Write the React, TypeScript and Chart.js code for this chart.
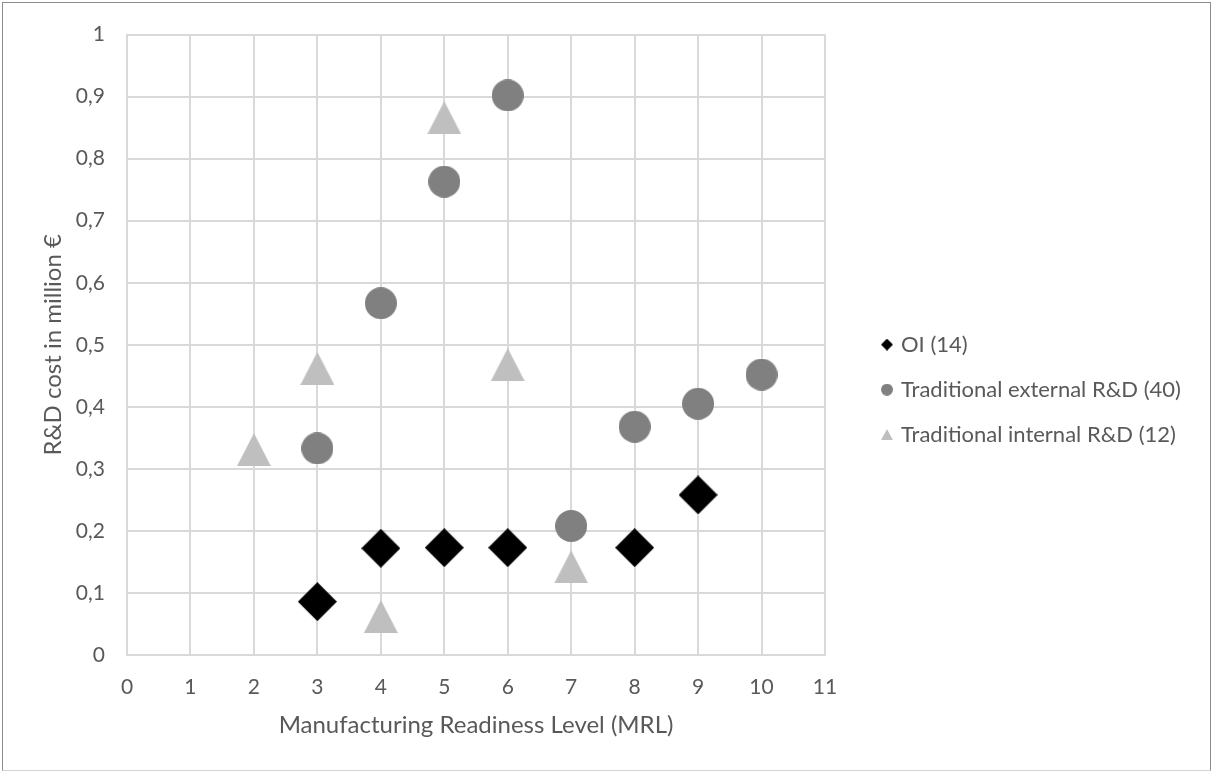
import React, { useEffect, useRef } from 'react';
import { Chart, registerables } from 'chart.js';

Chart.register(...registerables);

// ---- data ----
const xTickValues = [0, 1, 2, 3, 4, 5, 6, 7, 8, 9, 10, 11];
const yTickLabels = ['0', '0,1', '0,2', '0,3', '0,4', '0,5', '0,6', '0,7', '0,8', '0,9', '1'];

const oiX = [3, 4, 5, 6, 8, 9];
const oiY = [0.086, 0.172, 0.173, 0.173, 0.173, 0.258];

const extX = [3, 4, 5, 6, 7, 8, 9, 10];
const extY = [0.333, 0.567, 0.763, 0.902, 0.208, 0.368, 0.405, 0.452];

const intX = [2, 3, 4, 5, 6, 7];
const intY = [0.331, 0.462, 0.062, 0.866, 0.468, 0.142];

const seriesLabels = ['OI (14)', 'Traditional external R&D (40)', 'Traditional internal R&D (12)'];
const seriesColors = ['#000000', '#808080', '#bfbfbf'];
const seriesShapes = ['diamond', 'circle', 'triangle'];

const xTitle = 'Manufacturing Readiness Level (MRL)';
const yTitle = 'R&D cost in million €';

const FONT = 'Lato';
const TEXT = '#595959';
const GRID = '#d9d9d9';

function makeMarker(shape: string, w: number, h: number, color: string): HTMLCanvasElement {
  const c = document.createElement('canvas');
  c.width = w;
  c.height = h;
  const ctx = c.getContext('2d')!;
  ctx.fillStyle = color;
  ctx.beginPath();
  if (shape === 'circle') {
    ctx.ellipse(w / 2, h / 2, w / 2, h / 2, 0, 0, Math.PI * 2);
  } else if (shape === 'triangle') {
    ctx.moveTo(w / 2, 0);
    ctx.lineTo(w, h);
    ctx.lineTo(0, h);
    ctx.closePath();
  } else {
    ctx.moveTo(w / 2, 0);
    ctx.lineTo(w, h / 2);
    ctx.lineTo(w / 2, h);
    ctx.lineTo(0, h / 2);
    ctx.closePath();
  }
  ctx.fill();
  return c;
}

function toPoints(xs: number[], ys: number[]) {
  return xs.map((x, i) => ({ x, y: ys[i] }));
}

export default function App() {
  const canvasRef = useRef<HTMLCanvasElement | null>(null);

  useEffect(() => {
    if (!canvasRef.current) return;
    const bigSizes: Record<string, [number, number]> = {
      diamond: [39, 39],
      circle: [32, 32],
      triangle: [34, 33],
    };
    const smallSizes: Record<string, [number, number]> = {
      diamond: [12, 12],
      circle: [12, 12],
      triangle: [12, 11],
    };
    const bigMarkers = seriesShapes.map((s, i) => makeMarker(s, bigSizes[s][0], bigSizes[s][1], seriesColors[i]));
    const smallMarkers = seriesShapes.map((s, i) => makeMarker(s, smallSizes[s][0], smallSizes[s][1], seriesColors[i]));

    const legendPlugin = {
      id: 'sideLegend',
      afterDraw(chart: any) {
        const { ctx, chartArea } = chart;
        const firstY = chartArea.top + 310;
        const markerX = chartArea.right + 62;
        const textX = chartArea.right + 76;
        ctx.save();
        ctx.font = `22px ${FONT}`;
        ctx.fillStyle = TEXT;
        ctx.textBaseline = 'middle';
        ctx.textAlign = 'left';
        chart.data.datasets.forEach((ds: any, i: number) => {
          const y = firstY + i * 45;
          const m = smallMarkers[i];
          ctx.drawImage(m, markerX - m.width / 2, y - m.height / 2);
          ctx.fillText(ds.label, textX, y);
        });
        ctx.restore();
      },
    };

    const chart = new Chart(canvasRef.current, {
      type: 'scatter',
      data: {
        datasets: [
          {
            label: seriesLabels[0],
            data: toPoints(oiX, oiY),
            pointStyle: bigMarkers[0] as any,
            pointRadius: 19,
            backgroundColor: seriesColors[0],
            borderColor: seriesColors[0],
          },
          {
            label: seriesLabels[1],
            data: toPoints(extX, extY),
            pointStyle: bigMarkers[1] as any,
            pointRadius: 16,
            backgroundColor: seriesColors[1],
            borderColor: seriesColors[1],
          },
          {
            label: seriesLabels[2],
            data: toPoints(intX, intY),
            pointStyle: bigMarkers[2] as any,
            pointRadius: 17,
            backgroundColor: seriesColors[2],
            borderColor: seriesColors[2],
          },
        ],
      },
      options: {
        animation: false,
        responsive: false,
        maintainAspectRatio: false,
        layout: { padding: { left: 0, top: 32, right: 387, bottom: 0 } },
        plugins: {
          legend: { display: false },
          tooltip: { enabled: false },
        },
        scales: {
          x: {
            type: 'linear',
            min: xTickValues[0],
            max: xTickValues[xTickValues.length - 1],
            afterBuildTicks: (scale: any) => {
              scale.ticks = xTickValues.map((v) => ({ value: v }));
            },
            ticks: {
              padding: 20,
              color: TEXT,
              font: { family: FONT, size: 21 },
              callback: (v: any) => String(v),
            },
            grid: { color: GRID, lineWidth: 2, drawTicks: false },
            border: { color: GRID, width: 2 },
            title: {
              display: true,
              text: xTitle,
              color: TEXT,
              font: { family: FONT, size: 24 },
              padding: { top: 0, bottom: 32 },
            },
            afterFit: (scale: any) => {
              scale.height = 117;
            },
          },
          y: {
            type: 'linear',
            min: 0,
            max: 1,
            ticks: {
              stepSize: 0.1,
              padding: 22,
              color: TEXT,
              font: { family: FONT, size: 21 },
              callback: (_v: any, i: number) => yTickLabels[i],
            },
            grid: { color: GRID, lineWidth: 2, drawTicks: false },
            border: { color: GRID, width: 2 },
            title: {
              display: true,
              text: yTitle,
              color: TEXT,
              font: { family: FONT, size: 24 },
              padding: { top: 39, bottom: 0 },
            },
            afterFit: (scale: any) => {
              scale.width = 127;
            },
          },
        },
      } as any,
      plugins: [legendPlugin],
    });

    return () => {
      chart.destroy();
    };
  }, []);

  return (
    <div style={{ position: 'absolute', left: 0, top: 0, width: 1212, height: 772, background: '#ffffff' }}>
      <canvas ref={canvasRef} width={1212} height={772} style={{ position: 'absolute', left: 0, top: 0, width: 1212, height: 772 }} />
      <div
        style={{
          position: 'absolute',
          left: 2,
          top: 2,
          width: 1209,
          height: 769,
          boxSizing: 'border-box',
          borderLeft: '1px solid #8c8c8c',
          borderTop: '1px solid #8c8c8c',
          borderRight: '1px solid #8c8c8c',
          borderBottom: '1px solid #d4d4d4',
          pointerEvents: 'none',
        }}
      />
    </div>
  );
}
